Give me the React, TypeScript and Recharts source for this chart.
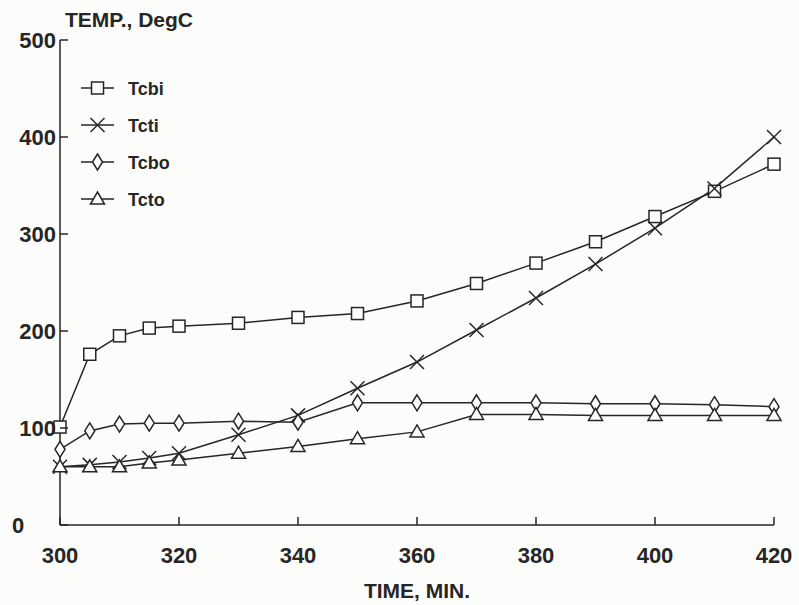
import React from 'react';
import { LineChart, Line, XAxis, YAxis, Legend } from 'recharts';

const times = [300, 305, 310, 315, 320, 330, 340, 350, 360, 370, 380, 390, 400, 410, 420];
const tcbi = [101, 176, 195, 203, 205, 208, 214, 218, 231, 249, 270, 292, 318, 344, 372];
const tcti = [60, 62, 65, 69, 74, 93, 113, 141, 168, 201, 234, 269, 306, 347, 400];
const tcbo = [78, 97, 104, 105, 105, 107, 106, 126, 126, 126, 126, 125, 125, 124, 122];
const tcto = [60, 60, 60, 64, 67, 74, 81, 89, 96, 114, 114, 113, 113, 113, 113];

const xTicks = [300, 320, 340, 360, 380, 400, 420];
const yTicks = [0, 100, 200, 300, 400, 500];

const INK = '#262626';
const BG = '#fcfcfa';
const FONT = '"Liberation Sans", Arial, sans-serif';

const series = [
  { key: 'Tcbi', shape: 'square' },
  { key: 'Tcti', shape: 'cross' },
  { key: 'Tcbo', shape: 'diamond' },
  { key: 'Tcto', shape: 'triangle' },
];

const data = times.map((t, i) => ({
  time: t,
  Tcbi: tcbi[i],
  Tcti: tcti[i],
  Tcbo: tcbo[i],
  Tcto: tcto[i],
}));

function Marker({ shape, cx, cy }: { shape: string; cx: number; cy: number }) {
  const common = { stroke: INK, strokeWidth: 1.5, fill: BG };
  if (shape === 'square') {
    return <rect x={cx - 6} y={cy - 6} width={12} height={12} {...common} />;
  }
  if (shape === 'cross') {
    return (
      <g stroke={INK} strokeWidth={1.5}>
        <line x1={cx - 7} y1={cy - 7} x2={cx + 7} y2={cy + 7} />
        <line x1={cx - 7} y1={cy + 7} x2={cx + 7} y2={cy - 7} />
      </g>
    );
  }
  if (shape === 'diamond') {
    return <polygon points={`${cx},${cy - 8} ${cx + 5},${cy} ${cx},${cy + 8} ${cx - 5},${cy}`} {...common} />;
  }
  return <polygon points={`${cx},${cy - 7} ${cx + 7},${cy + 5} ${cx - 7},${cy + 5}`} {...common} />;
}

const XTick = ({ x, y, payload }: any) => (
  <g>
    <line x1={x} x2={x} y1={y} y2={y - 8} stroke={INK} strokeWidth={1.5} />
    <text x={x} y={y + 38} textAnchor="middle" fontSize={22} fontWeight="bold" fontFamily={FONT} fill={INK}>
      {payload.value}
    </text>
  </g>
);

const YTick = ({ x, y, payload }: any) => (
  <g>
    <line x1={x} x2={x + 8} y1={y} y2={y} stroke={INK} strokeWidth={1.5} />
    <text
      x={payload.value === 0 ? 12 : x - 4}
      y={y + 8}
      textAnchor={payload.value === 0 ? 'start' : 'end'}
      fontSize={22}
      fontWeight="bold"
      fontFamily={FONT}
      fill={INK}
    >
      {payload.value}
    </text>
  </g>
);

const renderLegend = () => (
  <svg width={150} height={150}>
    {series.map((s, i) => {
      const cy = 18 + i * 37;
      return (
        <g key={s.key}>
          <line x1={11} x2={44} y1={cy} y2={cy} stroke={INK} strokeWidth={1.5} />
          <Marker shape={s.shape} cx={27.5} cy={cy} />
          <text x={58} y={cy + 7} fontSize={18} fontWeight="bold" fontFamily={FONT} fill={INK}>
            {s.key}
          </text>
        </g>
      );
    })}
  </svg>
);

export default function App() {
  return (
    <div style={{ position: 'absolute', left: 0, top: 0, width: 799, height: 605, background: BG }}>
      <LineChart width={799} height={605} data={data} margin={{ top: 40, right: 25, bottom: 20, left: 0 }}>
        <XAxis
          dataKey="time"
          type="number"
          domain={[300, 420]}
          ticks={xTicks}
          height={60}
          stroke={INK}
          strokeWidth={1.5}
          tickLine={false}
          tickSize={0}
          tickMargin={0}
          tick={XTick}
          label={({ viewBox }: any) => (
            <text
              x={viewBox.x + viewBox.width / 2}
              y={viewBox.y + 73}
              textAnchor="middle"
              fontSize={21}
              fontWeight="bold"
              fontFamily={FONT}
              fill={INK}
            >
              TIME, MIN.
            </text>
          )}
        />
        <YAxis
          type="number"
          domain={[0, 500]}
          ticks={yTicks}
          width={60}
          stroke={INK}
          strokeWidth={1.5}
          tickLine={false}
          tickSize={0}
          tickMargin={0}
          tick={YTick}
          label={({ viewBox }: any) => (
            <text x={65} y={viewBox.y - 13} fontSize={21} fontWeight="bold" fontFamily={FONT} fill={INK}>
              TEMP., DegC
            </text>
          )}
        />
        <Legend
          layout="vertical"
          align="center"
          verticalAlign="middle"
          content={renderLegend}
          wrapperStyle={{ left: 70, top: 70, width: 150, height: 150 }}
        />
        {series.map((s) => (
          <Line
            key={s.key}
            dataKey={s.key}
            type="linear"
            stroke={INK}
            strokeWidth={1.5}
            isAnimationActive={false}
            dot={(p: any) => <Marker key={`${s.key}-${p.index}`} shape={s.shape} cx={p.cx} cy={p.cy} />}
            activeDot={false}
            legendType="none"
          />
        ))}
      </LineChart>
    </div>
  );
}
